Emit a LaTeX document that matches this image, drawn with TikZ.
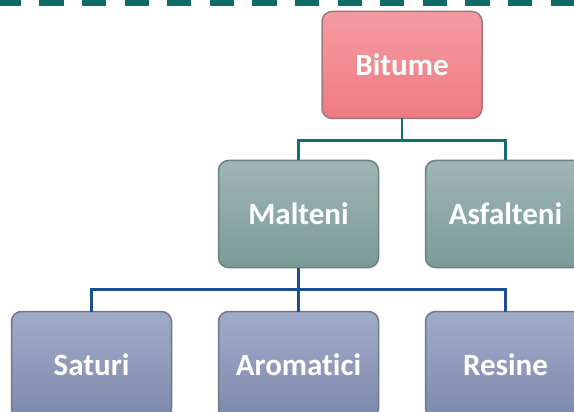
\documentclass[tikz,border=0pt]{standalone}
\usepackage{fontspec}
\setmainfont{Carlito}[Ligatures=NoCommon]
\usepackage{tikz}
\usetikzlibrary{positioning, calc}

\definecolor{rimteal}{HTML}{0E6B67}
\definecolor{bitumetop}{HTML}{F59BA2}
\definecolor{bitumebot}{HTML}{EF7A81}
\definecolor{bitumeedge}{HTML}{A0787C}
\definecolor{maltop}{HTML}{9FB6B5}
\definecolor{malbot}{HTML}{7A9A98}
\definecolor{maledge}{HTML}{6E807F}
\definecolor{fractop}{HTML}{A2ABC8}
\definecolor{fracbot}{HTML}{7D89AD}
\definecolor{fracedge}{HTML}{6F778A}
\definecolor{linkteal}{HTML}{10706E}
\definecolor{linkblue}{HTML}{1B4F91}

\begin{document}
\begin{tikzpicture}[
        x=1pt, y=1pt,
        outer sep=0pt,
        box/.style={rectangle, rounded corners=10pt, minimum width=160pt,
          minimum height=107pt, line width=1.5pt, text=white,
          font=\fontsize{31}{36}\selectfont\bfseries},
        topbox/.style={box, draw=bitumeedge, top color=bitumetop, bottom color=bitumebot},
        midbox/.style={box, draw=maledge, top color=maltop, bottom color=malbot},
        lowbox/.style={box, draw=fracedge, top color=fractop, bottom color=fracbot},
        toplink/.style={draw=linkteal, line width=2.5pt},
        lowlink/.style={draw=linkblue, line width=2.5pt},
    ]
        \useasboundingbox (0,0) rectangle (574,-412);
        \clip (0,0) rectangle (574,-412);

        % dashed rim along the top
        \draw[rimteal, line width=6pt, dash pattern=on 24.2pt off 18.4pt,
          dash phase=3.2pt] (0,-3) -- (574,-3);

        \node[midbox] (malteni) at (298.5,-214) {Malteni};
        \node[midbox, right=47pt of malteni] (asfalteni) {Asfalteni};
        \node[topbox, above=42pt] at ($(malteni.north)!0.5!(asfalteni.north)$) (bitume) {Bitume};

        \node[lowbox, below=44pt of malteni] (aromatici) {Aromatici};
        \node[lowbox, left=47pt of aromatici] (saturi) {Saturi};
        \node[lowbox, right=47pt of aromatici] (resine) {Resine};

        \draw[toplink] (bitume.south) -- ++(0,-22) -| (malteni.north);
        \draw[toplink] (bitume.south) -- ++(0,-22) -| (asfalteni.north);

        \draw[lowlink] (malteni.south) -- ++(0,-22) -| (saturi.north);
        \draw[lowlink] (malteni.south) -- (aromatici.north);
        \draw[lowlink] (malteni.south) -- ++(0,-22) -| (resine.north);
    \end{tikzpicture}
\end{document}
